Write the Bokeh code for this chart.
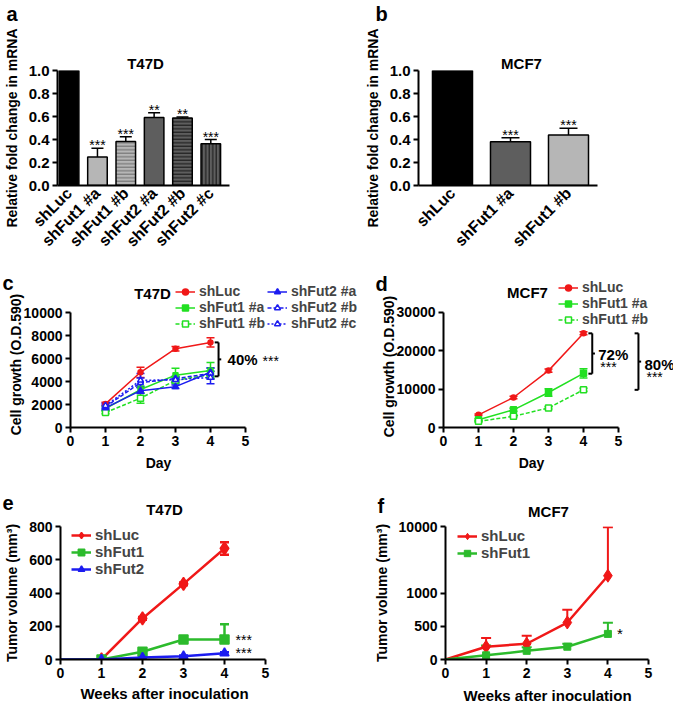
import math
from bokeh.plotting import figure
from bokeh.models import (ColumnDataSource, FixedTicker, Legend, LegendItem,
                          Whisker, TeeHead, Range1d)
from bokeh.layouts import row, column
from bokeh.embed import file_html
from bokeh.resources import INLINE
from bokeh.core.properties import value

# ---------------- data ----------------
a_labels = ["shLuc", "shFut1 #a", "shFut1 #b", "shFut2 #a", "shFut2 #b", "shFut2 #c"]
a_values = [1.0, 0.247, 0.382, 0.592, 0.586, 0.362]
a_errors = [0.0, 0.078, 0.043, 0.040, 0.009, 0.038]
a_stars = ["", "***", "***", "**", "**", "***"]

b_labels = ["shLuc", "shFut1 #a", "shFut1 #b"]
b_values = [1.0, 0.38, 0.44]
b_errors = [0.0, 0.036, 0.057]
b_stars = ["", "***", "***"]

bar_yticks = [0.0, 0.2, 0.4, 0.6, 0.8, 1.0]

days = [1, 2, 3, 4]
c_names = ["shLuc", "shFut1 #a", "shFut1 #b", "shFut2 #a", "shFut2 #b", "shFut2 #c"]
c_shLuc = [2050, 4800, 6850, 7400]
c_shLuc_err = [150, 450, 200, 400]
c_f1a = [1650, 3300, 4550, 4950]
c_f1a_err = [150, 300, 600, 700]
c_f1b = [1300, 2550, 4100, 4600]
c_f1b_err = [100, 450, 300, 300]
c_f2a = [1700, 3200, 3550, 4800]
c_f2a_err = [200, 250, 150, 350]
c_f2b = [1800, 3900, 4250, 4700]
c_f2b_err = [200, 400, 200, 500]
c_f2c = [1900, 4100, 4150, 4350]
c_f2c_err = [200, 600, 250, 550]
c_bracket = [7400, 4450]
c_text = "40%"
c_yticks = [0, 2000, 4000, 6000, 8000, 10000]

d_names = ["shLuc", "shFut1 #a", "shFut1 #b"]
d_shLuc = [3300, 7800, 14800, 24500]
d_shLuc_err = [200, 300, 400, 400]
d_f1a = [2000, 4600, 9100, 14100]
d_f1a_err = [300, 400, 1000, 1200]
d_f1b = [1600, 2900, 5100, 9800]
d_f1b_err = [200, 200, 300, 400]
d_bracket1 = [24500, 14000]
d_bracket2 = [24500, 9800]
d_texts = ["72%", "80%"]
d_yticks = [0, 10000, 20000, 30000]

weeks = [0, 1, 2, 3, 4]
e_names = ["shLuc", "shFut1", "shFut2"]
e_shLuc = [0, 0, 247, 455, 668]
e_shLuc_err = [0, 0, 8, 8, 38]
e_f1 = [0, 0, 47, 120, 120]
e_f1_err = [0, 0, 8, 8, 92]
e_f2 = [0, 0, 12, 20, 38]
e_f2_err = [0, 0, 4, 4, 6]
e_stars_y = [120, 38]
e_stars = ["***", "***"]
e_yticks = [0, 200, 400, 600, 800]

f_names = ["shLuc", "shFut1"]
f_shLuc = [0, 192, 237, 556, 3340]
f_shLuc_err = [0, 130, 122, 192, 6560]
f_f1 = [0, 63, 130, 192, 385]
f_f1_err = [0, 147, 56, 45, 167]
f_star = "*"
f_yticks = [0, 500, 1000, 10000]

xticks = [0, 1, 2, 3, 4, 5]

# ---------------- style ----------------
FONT = "Liberation Sans"
RED = "#f01818"
GREEN = "#22e022"
GREEN2 = "#2cbb2c"
BLUE = "#1c1cf0"


def fbreak(v):
    # broken y axis of panel f: linear to 1000, then 1000..10000 compressed into one segment
    return v if v <= 1000 else 1000 + (v - 1000) / 9.0


def make_fig(w, h, l, r, t, b, xr, yr):
    p = figure(width=w, height=h, x_range=Range1d(*xr), y_range=Range1d(*yr),
               output_backend="svg", toolbar_location=None,
               min_border_left=l, min_border_right=r, min_border_top=t, min_border_bottom=b)
    p.outline_line_color = None
    p.grid.visible = False
    p.background_fill_color = "white"
    p.border_fill_color = "white"
    for ax in p.axis:
        ax.axis_line_width = 2
        ax.axis_line_color = "black"
        ax.major_tick_line_width = 2
        ax.major_tick_line_color = "black"
        ax.major_tick_out = 5
        ax.major_tick_in = 0
        ax.minor_tick_out = 0
        ax.minor_tick_in = 0
        ax.major_label_text_font = FONT
        ax.major_label_text_font_style = "bold"
        ax.major_label_text_font_size = "14px"
        ax.major_label_text_color = "black"
        ax.major_label_standoff = 3
        ax.axis_label_text_font = FONT
        ax.axis_label_text_font_style = "bold"
        ax.axis_label_text_font_size = "14px"
        ax.axis_label_text_color = "black"
        ax.axis_label_standoff = 6
    return p


class Geo:
    """Figure placed at page position (ox, oy) with size w x h and frame borders l, r, t, b."""

    def __init__(self, ox, oy, w, h, l, r, t, b):
        self.ox, self.oy, self.w, self.h, self.l, self.r, self.t, self.b = ox, oy, w, h, l, r, t, b

    def fig(self, xr, yr):
        self.p = make_fig(self.w, self.h, self.l, self.r, self.t, self.b, xr, yr)
        self.xr, self.yr = xr, yr
        return self.p

    def text(self, text, X, Y, size="14px", align="left", bold=True, angle=0.0, baseline="alphabetic"):
        # free text positioned in page pixels (offset from the frame's top-left corner), not clipped
        self.p.text(x=[self.xr[0]], y=[self.yr[1]], text=[text],
                    x_offset=X - (self.ox + self.l), y_offset=Y - (self.oy + self.t),
                    angle=angle, text_font=value(FONT), text_font_size=size,
                    text_font_style="bold" if bold else "normal",
                    text_align=align, text_baseline=baseline, text_color="black", level="overlay")


def whiskers(p, x, lo, hi, color, width, cap, lower=True):
    src = ColumnDataSource(dict(x=x, lo=lo, hi=hi))
    w = Whisker(base="x", lower="lo", upper="hi", source=src, dimension="height",
                line_color=color, line_width=width,
                upper_head=TeeHead(size=cap, line_color=color, line_width=width),
                lower_head=TeeHead(size=cap, line_color=color, line_width=width) if lower else None)
    p.add_layout(w)


def bar_panel(g, labels, values, errors, stars, fills, hatches, hatch_cols, bar_w, cap, xr,
              letter, letter_x, title, title_x):
    p = g.fig(xr, (0, 1.0))
    idx = list(range(len(labels)))
    src = ColumnDataSource(dict(x=idx, top=values, fill=fills, hatch=hatches, hc=hatch_cols))
    p.vbar(x="x", top="top", width=bar_w, bottom=0, source=src, fill_color="fill",
           line_color="black", line_width=1.5, hatch_pattern="hatch", hatch_color="hc",
           hatch_scale=3.5, hatch_weight=1)
    ex = [i for i in idx if errors[i] > 0]
    whiskers(p, ex, [values[i] for i in ex], [values[i] + errors[i] for i in ex],
             "black", 1.5, cap, lower=False)
    sx = [i for i in idx if stars[i]]
    p.text(x=sx, y=[values[i] + errors[i] for i in sx], text=[stars[i] for i in sx],
           text_font=value(FONT), text_font_size="14px", text_align="center",
           text_baseline="alphabetic", y_offset=-3, text_color="black")
    p.xaxis.ticker = FixedTicker(ticks=idx)
    p.xaxis.major_label_overrides = {i: s for i, s in enumerate(labels)}
    p.xaxis.major_label_orientation = math.pi / 4
    p.xaxis.major_tick_out = 0
    p.xaxis.major_label_standoff = 5
    p.xaxis.major_label_text_font_size = "16px"
    p.yaxis.major_label_text_font_size = "15px"
    p.yaxis.ticker = FixedTicker(ticks=bar_yticks)
    p.yaxis.major_label_overrides = {t: f"{t:.1f}" for t in bar_yticks}
    p.yaxis.axis_label = "Relative fold change in mRNA"
    g.text(letter, letter_x, 13, size="20px")
    g.text(title, title_x, 63, size="15px", align="center")
    return p


# ---------------- panel a ----------------
ga = Geo(0, 0, 340, 258, 53, 111, 70, 72)
pa = bar_panel(ga, a_labels, a_values, a_errors, a_stars,
               ["black", "#b6b6b6", "#b6b6b6", "#5e5e5e", "#5e5e5e", "#5e5e5e"],
               [" ", " ", "-", " ", "-", "|"],
               ["black", "black", "#6a6a6a", "black", "#111111", "#111111"],
               0.69, 12, (-0.41, 5.66), "a", 2, "T47D", 141)

# ---------------- panel b ----------------
gb = Geo(340, 0, 333, 258, 78, 76, 70, 72)
pb = bar_panel(gb, b_labels, b_values, b_errors, b_stars,
               ["black", "#5e5e5e", "#b6b6b6"], [" ", " ", " "], ["black"] * 3,
               0.69, 18, (-0.586, 2.5), "b", 375, "MCF7", 521)


# ---------------- line helpers ----------------
def series(p, x, y, err, color, marker, size, fill, dash, lw, cap, lower=True, skip_first=False):
    lr = p.line(x, y, line_color=color, line_width=lw, line_dash=dash)
    whiskers(p, x, [v - e if lower else v for v, e in zip(y, err)],
             [v + e for v, e in zip(y, err)], color, lw, cap, lower=lower)
    k = 1 if skip_first else 0
    sr = p.scatter(x[k:], y[k:], marker=marker, size=size, fill_color=fill, line_color=color, line_width=1.5)
    return [lr, sr]


def legend(p, items, loc, gh, lh, fs="14px"):
    lg = Legend(items=items, location=loc, orientation="vertical", glyph_width=20, glyph_height=gh,
                label_height=lh, spacing=0, padding=0, margin=0, border_line_color=None,
                background_fill_alpha=0, label_text_font=FONT, label_text_font_style="bold",
                label_text_font_size=fs, label_standoff=4)
    p.add_layout(lg)


def bracket(p, x, top, bot, cap, lw=2):
    mid = (top + bot) / 2
    p.segment(x0=[x, x - cap, x - cap, x], y0=[top, top, bot, mid],
              x1=[x, x, x, x + cap * 0.7], y1=[bot, top, bot, mid],
              line_color="black", line_width=lw, level="overlay")
    return mid


def line_axes(p, yticks):
    p.xaxis.ticker = FixedTicker(ticks=xticks)
    p.yaxis.ticker = FixedTicker(ticks=yticks)


# ---------------- panel c ----------------
gc = Geo(0, 258, 360, 220, 70, 2, 4, 51)
c_xpx, c_ypx = 175, 115          # pixel length of the 0..5 and 0..10000 axes
pc = gc.fig((0, 5 * (gc.w - gc.l - gc.r) / c_xpx), (0, 10000 * (gc.h - gc.t - gc.b) / c_ypx))
line_axes(pc, c_yticks)
pc.xaxis.bounds = (0, 5)
pc.yaxis.bounds = (0, 10000)
rc = [
    series(pc, days, c_shLuc, c_shLuc_err, RED, "circle", 5, RED, "solid", 1.5, 8),
    series(pc, days, c_f1a, c_f1a_err, GREEN, "square", 5, GREEN, "solid", 1.5, 8),
    series(pc, days, c_f1b, c_f1b_err, GREEN, "square", 6, "white", "4 2", 1.5, 8),
    series(pc, days, c_f2a, c_f2a_err, BLUE, "triangle", 6, BLUE, "solid", 1.5, 8),
    series(pc, days, c_f2b, c_f2b_err, BLUE, "triangle", 6, "white", "4 2", 1.5, 8),
    series(pc, days, c_f2c, c_f2c_err, BLUE, "triangle", 6, "white", "2 2", 1.5, 8),
]
legend(pc, [LegendItem(label=c_names[i], renderers=rc[i]) for i in range(3)], (105, 96), 15, 15)
legend(pc, [LegendItem(label=c_names[i], renderers=rc[i]) for i in range(3, 6)], (197, 96), 15, 15)
mid = bracket(pc, 4.23, c_bracket[0], c_bracket[1], 0.11)
pc.text(x=[4.23], y=[mid], text=[c_text], x_offset=9, text_font=value(FONT), text_font_size="15px",
        text_font_style="bold", text_baseline="middle", text_color="black")
pc.text(x=[4.23], y=[mid], text=["***"], x_offset=44, y_offset=2, text_font=value(FONT),
        text_font_size="14px", text_baseline="middle", text_color="black")
gc.text("c", 2, 282, size="20px")
gc.text("T47D", 152, 293, size="15px", align="center")
gc.text("Cell growth (O.D.590)", 15, 364, size="14px", align="center", angle=math.pi / 2, baseline="middle")
gc.text("Day", 158, 462, size="14px", align="center")

# ---------------- panel d ----------------
gd = Geo(360, 258, 313, 220, 83, 0, 4, 50)
d_xpx, d_ypx = 175, 116
pd_ = gd.fig((0, 5 * (gd.w - gd.l - gd.r) / d_xpx), (0, 30000 * (gd.h - gd.t - gd.b) / d_ypx))
line_axes(pd_, d_yticks)
pd_.xaxis.bounds = (0, 5)
pd_.yaxis.bounds = (0, 30000)
rd = [
    series(pd_, days, d_shLuc, d_shLuc_err, RED, "circle", 5, RED, "solid", 1.5, 8),
    series(pd_, days, d_f1a, d_f1a_err, GREEN, "square", 6, GREEN, "solid", 1.5, 8),
    series(pd_, days, d_f1b, d_f1b_err, GREEN, "square", 6, "white", "4 2", 1.5, 8),
]
legend(pd_, [LegendItem(label=d_names[i], renderers=rd[i]) for i in range(3)], (115, 100), 15, 15)
m1 = bracket(pd_, 4.25, d_bracket1[0], d_bracket1[1], 0.11)
m2 = bracket(pd_, 5.57, d_bracket2[0], d_bracket2[1], 0.11)
for xb, mb, txt, dy in [(4.25, m1, d_texts[0], 1), (5.57, m2, d_texts[1], 3)]:
    pd_.text(x=[xb], y=[mb], text=[txt], x_offset=6, y_offset=dy, text_font=value(FONT),
             text_font_size="15px", text_font_style="bold", text_baseline="middle", text_color="black")
    pd_.text(x=[xb], y=[mb], text=["***"], x_offset=8, y_offset=dy + 12, text_font=value(FONT),
             text_font_size="14px", text_baseline="middle", text_color="black")
gd.text("d", 375, 283, size="20px")
gd.text("MCF7", 527, 292, size="15px", align="center")
gd.text("Cell growth (O.D.590)", 388, 366, size="14px", align="center", angle=math.pi / 2, baseline="middle")
gd.text("Day", 531, 462, size="14px", align="center")

# ---------------- panel e ----------------
ge = Geo(0, 478, 340, 225, 60, 75, 48, 41)
pe = ge.fig((0, 5), (0, 800))
line_axes(pe, e_yticks)
pe.yaxis.axis_label = "Tumor volume (mm³)"
re_ = [
    series(pe, weeks, e_shLuc, e_shLuc_err, RED, "diamond", 13, RED, "solid", 2.5, 9, skip_first=True),
    series(pe, weeks, e_f1, e_f1_err, GREEN2, "square", 9, GREEN2, "solid", 2.5, 9, lower=False, skip_first=True),
    series(pe, weeks, e_f2, e_f2_err, BLUE, "triangle", 9, BLUE, "solid", 2.5, 9, lower=False, skip_first=True),
]
legend(pe, [LegendItem(label=e_names[i], renderers=re_[i]) for i in range(3)], (11, 82), 16, 16, "15px")
pe.text(x=[4, 4], y=e_stars_y, text=e_stars, x_offset=11, text_font=value(FONT), text_font_size="14px",
        text_baseline="middle", text_color="black")
ge.text("e", 2, 502, size="20px")
ge.text("T47D", 164, 509, size="15px", align="center")
ge.text("Weeks after inoculation", 164, 693, size="15px", align="center")

# ---------------- panel f ----------------
gf = Geo(340, 478, 333, 225, 105, 25, 46, 44)
pf = gf.fig((0, 5), (0, fbreak(10000)))
line_axes(pf, [fbreak(v) for v in f_yticks])
pf.yaxis.major_label_overrides = {fbreak(v): str(v) for v in f_yticks}
pf.yaxis.axis_label = "Tumor volume (mm³)"


def fseries(y, err, color, marker, size):
    yy = [fbreak(v) for v in y]
    hi = [fbreak(v + e) for v, e in zip(y, err)]
    lr = pf.line(weeks, yy, line_color=color, line_width=2.5)
    whiskers(pf, weeks[1:], yy[1:], hi[1:], color, 2, 10, lower=False)
    sr = pf.scatter(weeks[1:], yy[1:], marker=marker, size=size, fill_color=color, line_color=color)
    return [lr, sr]


rf = [fseries(f_shLuc, f_shLuc_err, RED, "diamond", 13),
      fseries(f_f1, f_f1_err, GREEN2, "square", 7)]
legend(pf, [LegendItem(label=f_names[i], renderers=rf[i]) for i in range(2)], (12, 98), 16, 16, "15px")
pf.text(x=[4], y=[fbreak(f_f1[4])], text=[f_star], x_offset=9, text_font=value(FONT), text_font_size="15px",
        text_baseline="middle", text_color="black")
gf.text("f", 377, 503, size="20px")
gf.text("MCF7", 548, 509, size="15px", align="center")
gf.text("Weeks after inoculation", 547, 693, size="15px", align="center")

root = column(row(pa, pb), row(pc, pd_), row(pe, pf))
root.styles = {"position": "absolute", "left": "0px", "top": "0px"}

open("out.html", "w").write(file_html(root, INLINE))
